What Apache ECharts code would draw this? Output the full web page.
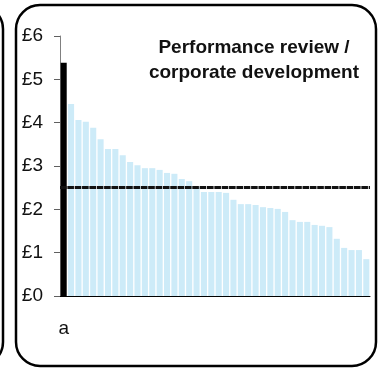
<!DOCTYPE html>
<html>
<head>
<meta charset="utf-8">
<script src="https://cdn.jsdelivr.net/npm/echarts@6/dist/echarts.min.js"></script>
<style>
  html, body { margin: 0; padding: 0; background: #fff; }
  #chart { width: 379px; height: 368px; }
</style>
</head>
<body>
<div id="chart"></div>
<script>
// Spend per head: the highlighted authority first, then the comparison group in descending order
const categories = ['a', '', '', '', '', '', '', '', '', '', '', '', '', '', '', '', '', '', '', '', '',
  '', '', '', '', '', '', '', '', '', '', '', '', '', '', '', '', '', '', '', '', ''];
const highlightValue = 5.38;
const comparatorValues = [4.43, 4.06, 4.02, 3.88, 3.62, 3.39, 3.39, 3.25, 3.09, 3.02,
  2.95, 2.95, 2.91, 2.84, 2.82, 2.70, 2.65, 2.52, 2.40, 2.40,
  2.40, 2.38, 2.22, 2.12, 2.12, 2.10, 2.05, 2.03, 2.01, 1.94,
  1.75, 1.71, 1.71, 1.64, 1.62, 1.59, 1.32, 1.11, 1.06, 1.06, 0.85];
const averageValue = 2.5;
const yTicks = [0, 1, 2, 3, 4, 5, 6];
const titleLines = ['Performance review /', 'corporate development'];

const FONT = '"Liberation Sans", Arial, sans-serif';

const barData = [
  { value: highlightValue, itemStyle: { color: '#000000' } },
  ...comparatorValues.map(v => ({ value: v }))
];

const chart = echarts.init(document.getElementById('chart'), null, { renderer: 'canvas' });

chart.setOption({
  animation: false,
  backgroundColor: '#ffffff',
  textStyle: { fontFamily: FONT },
  title: {
    text: titleLines.join('\n'),
    left: 249,
    top: 30,
    textAlign: 'center',
    textStyle: {
      fontFamily: FONT,
      fontWeight: 'bold',
      fontSize: 19,
      lineHeight: 25,
      color: '#111111'
    }
  },
  graphic: [
    {
      type: 'rect',
      shape: { x: 16, y: 5, width: 360, height: 361, r: 24 },
      style: { fill: 'none', stroke: '#000000', lineWidth: 2.5 },
      silent: true
    },
    {
      type: 'rect',
      shape: { x: -400, y: 5, width: 403, height: 361, r: 24 },
      style: { fill: 'none', stroke: '#000000', lineWidth: 2.5 },
      silent: true
    }
  ],
  grid: { left: 60, right: 9, top: 36, bottom: 72, containLabel: false },
  xAxis: {
    type: 'category',
    data: categories,
    axisLine: { show: true, lineStyle: { color: '#000000', width: 1 } },
    axisTick: { show: false },
    axisLabel: {
      interval: 0,
      margin: 23,
      fontSize: 19,
      fontFamily: FONT,
      color: '#111111'
    }
  },
  yAxis: {
    type: 'value',
    min: yTicks[0],
    max: yTicks[yTicks.length - 1],
    interval: 1,
    splitLine: { show: false },
    axisLine: { show: true, lineStyle: { color: '#808080', width: 1 } },
    axisTick: { show: true, length: 6, lineStyle: { color: '#606060' } },
    axisLabel: {
      margin: 17,
      fontSize: 19,
      fontFamily: FONT,
      color: '#111111',
      formatter: v => '£' + v
    }
  },
  series: [
    {
      type: 'bar',
      data: barData,
      barCategoryGap: '18%',
      itemStyle: { color: '#cdebf8' },
      markLine: {
        silent: true,
        symbol: 'none',
        label: { show: false },
        lineStyle: { color: '#111111', width: 3, type: [6.6, 0.75], opacity: 1 },
        data: [{ yAxis: averageValue }]
      }
    }
  ]
});
</script>
</body>
</html>
